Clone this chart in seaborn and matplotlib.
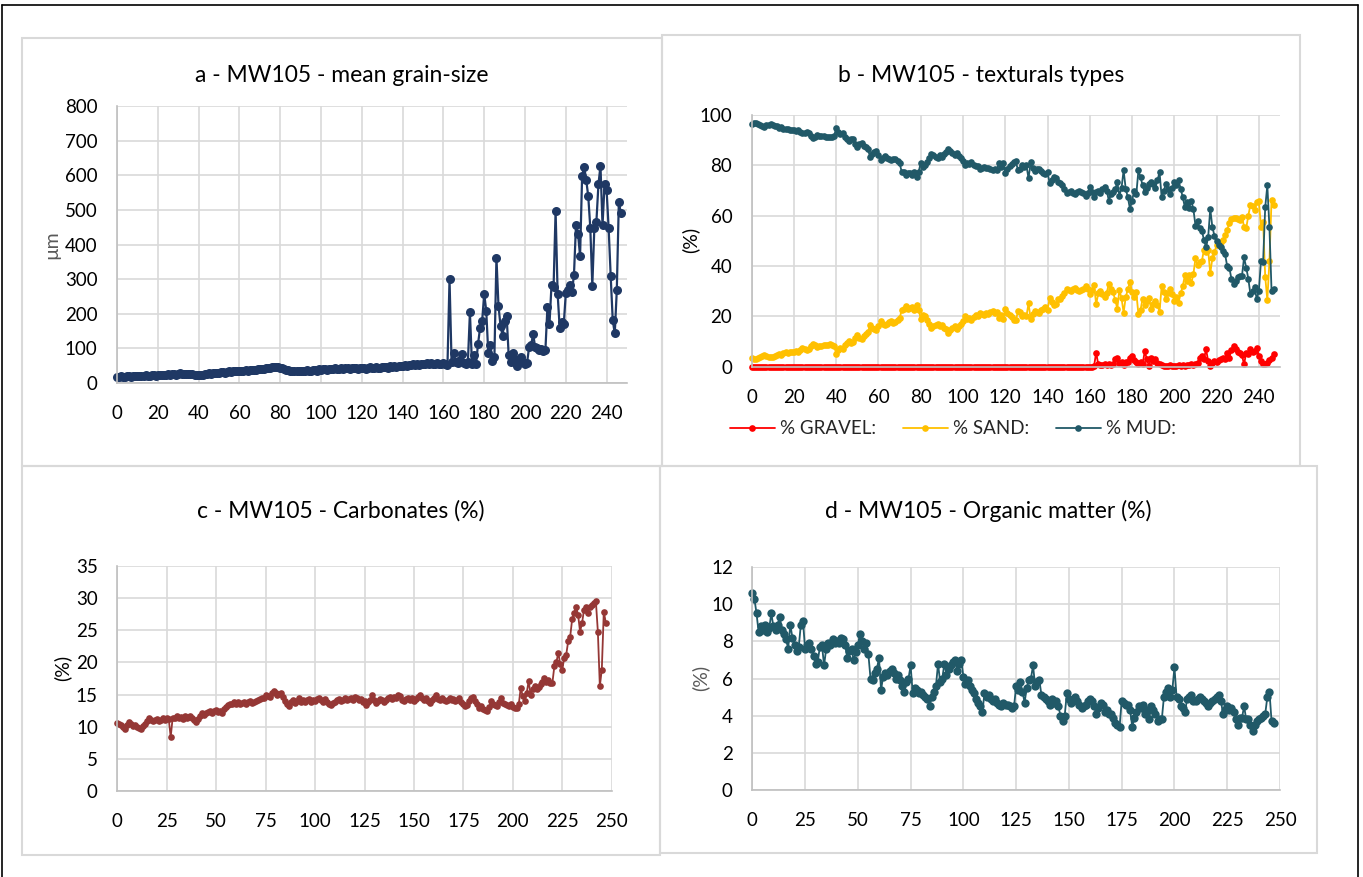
import numpy as np
import pandas as pd
import matplotlib
matplotlib.use("Agg")
import matplotlib.pyplot as plt
import seaborn as sns
from matplotlib.patches import Rectangle
from matplotlib.lines import Line2D

# ---------------------------------------------------------------- data
depth = list(range(248))

grain_size = [
    18, 17, 19, 18, 17, 20, 19, 18, 20, 19,
    20, 19, 21, 20, 22, 21, 20, 22, 23, 21,
    22, 23, 22, 24, 23, 25, 24, 26, 25, 24,
    26, 28, 27, 25, 26, 27, 26, 25, 24, 23,
    22, 24, 23, 25, 26, 28, 27, 29, 30, 28,
    30, 31, 32, 30, 33, 34, 33, 35, 36, 34,
    35, 36, 35, 37, 36, 38, 37, 38, 37, 39,
    40, 39, 41, 42, 43, 44, 46, 47, 45, 46,
    44, 42, 40, 38, 37, 35, 36, 34, 36, 35,
    34, 36, 35, 37, 36, 35, 38, 37, 36, 39,
    38, 40, 39, 38, 41, 40, 39, 42, 41, 40,
    42, 41, 43, 42, 40, 43, 44, 42, 41, 43,
    44, 42, 41, 43, 45, 44, 43, 46, 42, 44,
    45, 47, 46, 44, 48, 47, 49, 46, 48, 50,
    49, 52, 50, 53, 51, 54, 52, 55, 53, 54,
    56, 54, 57, 55, 58, 56, 55, 57, 54, 56,
    58, 55, 52, 300, 62, 88, 60, 58, 65, 83,
    58, 55, 60, 204, 55, 80, 55, 114, 160, 180,
    257, 209, 86, 110, 64, 75, 362, 223, 165, 136,
    180, 194, 80, 60, 88, 70, 50, 60, 75, 62,
    55, 58, 103, 110, 141, 103, 100, 95, 98, 92,
    95, 220, 170, 284, 276, 497, 257, 160, 175, 170,
    259, 270, 284, 262, 312, 457, 430, 367, 598, 625,
    586, 540, 449, 281, 449, 466, 574, 627, 455, 574,
    557, 447, 310, 182, 143, 268, 524, 490,
]

gravel = [0.0] * 160 + [
    0.0, 0.0, 0.2, 5.6, 0.9, 0.8, 0.6, 0.9, 0.7, 1.0,
    0.8, 1.2, 2.9, 3.6, 1.5, 1.8, 0.5, 1.7, 2.0, 3.6,
    4.2, 2.5, 2.0, 1.2, 2.0, 1.0, 6.2, 2.9, 0.3, 3.6,
    2.4, 2.9, 1.5, 0.9, 0.6, 0.3, 0.4, 0.2, 0.5, 0.3,
    0.4, 0.2, 0.5, 0.3, 0.6, 0.4, 0.8, 0.5, 0.9, 0.6,
    1.0, 1.5, 3.6, 4.2, 3.0, 6.9, 2.3, 0.2, 1.5, 2.3,
    1.8, 2.5, 2.9, 3.6, 3.0, 5.6, 3.6, 6.5, 8.2, 6.9,
    6.0, 5.6, 4.5, 0.9, 5.6, 5.0, 6.9, 6.0, 6.2, 7.6,
    4.2, 2.3, 0.9, 0.9, 1.6, 2.5, 3.6, 4.9,
]

sand = [
    3.5, 3.2, 3.0, 3.4, 3.8, 4.2, 4.6, 4.1, 3.9, 3.7,
    4.0, 4.2, 4.5, 5.0, 4.8, 5.4, 5.7, 5.4, 5.8, 6.0,
    6.0, 6.4, 6.0, 6.8, 7.3, 7.0, 6.6, 7.0, 8.2, 9.1,
    8.7, 8.0, 8.4, 8.2, 8.5, 8.8, 8.6, 8.9, 8.7, 8.4,
    5.0, 6.8, 7.5, 7.2, 8.8, 9.5, 10.2, 9.4, 9.7, 11.4,
    12.6, 11.4, 11.0, 12.2, 12.8, 13.6, 16.6, 15.4, 14.8, 14.4,
    16.0, 18.0, 17.0, 16.4, 17.0, 17.6, 18.0, 17.4, 17.6, 18.4,
    19.2, 22.6, 22.8, 24.0, 23.0, 23.2, 23.8, 22.6, 24.6, 22.6,
    19.0, 20.5, 20.0, 18.5, 17.0, 15.5, 16.0, 16.5, 17.0, 16.0,
    16.5, 15.5, 14.8, 13.5, 14.5, 15.2, 16.0, 15.0, 16.2, 17.0,
    18.2, 20.0, 19.0, 19.4, 18.7, 19.8, 20.4, 20.2, 21.5, 20.9,
    20.7, 21.2, 21.0, 21.6, 22.0, 21.4, 21.7, 19.2, 20.5, 19.0,
    23.0, 21.4, 20.4, 19.6, 18.7, 18.4, 22.0, 21.6, 20.0, 20.6,
    20.0, 25.2, 18.8, 21.0, 22.2, 21.6, 21.4, 22.4, 23.0, 23.6,
    22.7, 27.2, 25.8, 24.7, 25.0, 26.7, 27.0, 28.0, 29.4, 30.8,
    30.5, 30.0, 30.8, 31.3, 30.6, 30.0, 30.4, 31.0, 32.0, 31.0,
    28.7, 30.5, 32.5, 24.8, 29.1, 30.2, 28.9, 27.8, 29.3, 33.0,
    30.7, 29.5, 26.6, 23.1, 30.5, 27.2, 21.5, 27.7, 30.7, 33.7,
    29.8, 27.5, 29.5, 20.8, 22.7, 27.0, 24.5, 26.1, 27.2, 23.1,
    25.0, 26.1, 24.5, 21.8, 32.1, 29.7, 27.0, 29.3, 30.8, 28.7,
    26.3, 27.8, 25.5, 29.1, 32.1, 36.3, 33.9, 36.5, 33.1, 36.7,
    43.0, 40.5, 41.4, 41.8, 46.5, 45.7, 46.3, 37.1, 43.1, 45.7,
    48.2, 49.0, 49.7, 50.4, 52.3, 54.4, 57.0, 58.5, 59.0, 59.1,
    58.5, 58.4, 59.4, 55.7, 55.0, 60.0, 64.3, 64.0, 62.3, 65.6,
    65.7, 55.7, 57.6, 35.8, 26.4, 42.1, 66.3, 64.3,
]

mud = [
    96.5, 96.8, 97.0, 96.6, 96.2, 95.8, 95.4, 95.9, 96.1, 96.3,
    96.0, 95.8, 95.5, 95.0, 95.2, 94.6, 94.3, 94.6, 94.2, 94.0,
    94.0, 93.6, 94.0, 93.2, 92.7, 93.0, 93.4, 93.0, 91.8, 90.9,
    91.3, 92.0, 91.6, 91.8, 91.5, 91.2, 91.4, 91.1, 91.3, 91.6,
    95.0, 93.2, 92.5, 92.8, 91.2, 90.5, 89.8, 90.6, 90.3, 88.6,
    87.4, 88.6, 89.0, 87.8, 87.2, 86.4, 83.4, 84.6, 85.2, 85.6,
    84.0, 82.0, 83.0, 83.6, 83.0, 82.4, 82.0, 82.6, 82.4, 81.6,
    80.8, 77.4, 77.2, 76.0, 77.0, 76.8, 76.2, 77.4, 75.4, 77.4,
    81.0, 79.5, 80.0, 81.5, 83.0, 84.5, 84.0, 83.5, 83.0, 84.0,
    83.5, 84.5, 85.2, 86.5, 85.5, 84.8, 84.0, 85.0, 83.8, 83.0,
    81.8, 80.0, 81.0, 80.6, 81.3, 80.2, 79.6, 79.8, 78.5, 79.1,
    79.3, 78.8, 79.0, 78.4, 78.0, 78.6, 78.3, 80.8, 79.5, 81.0,
    77.0, 78.6, 79.6, 80.4, 81.3, 81.6, 78.0, 78.4, 80.0, 79.4,
    80.0, 74.8, 81.2, 79.0, 77.8, 78.4, 78.6, 77.6, 77.0, 76.4,
    77.3, 72.8, 74.2, 75.3, 75.0, 73.3, 73.0, 72.0, 70.6, 69.2,
    69.5, 70.0, 69.2, 68.7, 69.4, 70.0, 69.6, 69.0, 68.0, 69.0,
    71.3, 69.5, 67.3, 69.6, 70.0, 69.0, 70.5, 71.3, 70.0, 66.0,
    68.5, 69.3, 70.5, 73.3, 68.0, 71.0, 78.0, 70.6, 67.3, 62.7,
    66.0, 70.0, 68.5, 78.0, 75.3, 72.0, 69.3, 71.0, 72.5, 73.3,
    72.6, 71.0, 74.0, 77.3, 67.3, 70.0, 72.6, 70.5, 68.7, 71.0,
    73.3, 72.0, 74.0, 70.6, 67.3, 63.3, 65.3, 63.0, 66.0, 62.7,
    56.0, 58.0, 55.0, 54.0, 50.5, 47.4, 51.4, 62.7, 55.4, 52.0,
    50.0, 48.5, 47.4, 46.0, 44.7, 40.0, 39.4, 35.0, 32.8, 34.0,
    35.5, 36.0, 36.1, 43.4, 39.4, 35.0, 28.8, 30.0, 31.5, 26.8,
    30.1, 42.0, 41.5, 63.3, 72.0, 55.4, 30.1, 30.8,
]

carbonates = [
    10.6, 10.4, 10.3, 10.0, 9.6, 10.2, 10.7, 10.4, 10.1, 10.3,
    10.0, 9.8, 9.6, 10.1, 10.5, 10.9, 11.4, 11.1, 10.9, 11.0,
    11.2, 10.9, 11.1, 11.4, 11.0, 11.3, 11.2, 8.4, 11.4, 11.3,
    11.6, 11.3, 11.5, 11.2, 11.6, 11.4, 11.5, 11.6, 11.3, 11.0,
    10.7, 11.2, 11.6, 12.2, 11.9, 12.1, 12.3, 12.4, 12.2, 12.5,
    12.6, 12.3, 12.4, 12.2, 12.8, 13.1, 13.4, 13.6, 13.5, 13.8,
    13.6, 13.8, 13.5, 13.7, 13.9, 13.6, 13.8, 14.0, 13.7, 13.9,
    14.0, 14.2, 14.3, 14.5, 14.4, 15.0, 14.8, 14.6, 15.2, 15.5,
    15.2, 14.9, 15.1, 15.3, 14.6, 14.0, 13.6, 13.2, 13.8, 14.1,
    13.7, 14.0, 14.5, 13.9, 14.2, 13.8, 14.1, 14.3, 13.9, 14.2,
    14.0, 14.3, 14.5, 14.1, 13.9, 14.3, 13.8, 13.6, 13.4, 13.7,
    13.9, 14.1, 14.3, 14.0, 14.2, 14.4, 14.1, 14.3, 14.5, 14.2,
    14.7, 14.4, 14.1, 14.3, 13.9, 14.0, 13.4, 13.8, 14.2, 15.0,
    14.2, 13.7, 14.0, 14.3, 14.1, 13.8, 14.2, 14.4, 14.6, 14.3,
    14.7, 14.5, 15.0, 14.8, 14.2, 14.0, 14.3, 14.5, 14.1, 14.4,
    14.0, 14.3, 14.6, 15.0, 14.5, 14.2, 14.4, 14.0, 13.7, 14.1,
    14.4, 15.0, 14.3, 14.1, 14.5, 14.2, 14.0, 14.2, 14.4, 14.1,
    14.3, 14.0, 14.2, 14.5, 13.9, 13.5, 13.2, 13.4, 14.0, 14.5,
    14.7, 14.0, 13.5, 12.9, 13.3, 12.8, 12.6, 12.4, 13.0, 14.0,
    13.6, 13.4, 13.2, 13.8, 14.5, 13.7, 13.5, 13.4, 13.2, 13.6,
    13.1, 12.9, 12.9, 13.5, 16.0, 14.8, 14.0, 15.2, 17.1, 15.0,
    15.8, 16.3, 15.9, 16.2, 16.6, 17.0, 17.6, 16.9, 17.2, 16.8,
    16.8, 19.4, 20.0, 21.5, 19.7, 18.9, 20.7, 21.2, 23.3, 24.0,
    26.7, 27.7, 28.7, 27.4, 24.8, 26.1, 28.2, 28.7, 27.7, 28.7,
    29.0, 29.2, 29.5, 24.8, 16.3, 18.9, 27.9, 26.2,
]

organic = [
    10.6, 10.3, 9.5, 8.5, 8.8, 8.6, 8.9, 8.5, 8.7, 9.5,
    8.8, 8.6, 8.9, 9.3, 8.6, 8.4, 8.1, 7.6, 8.9, 8.2,
    7.8, 7.5, 7.7, 8.9, 9.1, 7.6, 7.8, 7.9, 7.6, 7.2,
    6.8, 6.9, 7.7, 7.8, 6.7, 7.6, 7.9, 7.8, 8.1, 7.9,
    8.0, 7.9, 8.2, 8.1, 7.8, 7.1, 7.5, 7.6, 7.0, 7.4,
    7.8, 8.4, 8.0, 7.6, 7.9, 7.3, 6.0, 5.9, 6.3, 6.5,
    7.1, 5.4, 6.1, 6.3, 6.2, 6.4, 6.5, 6.3, 6.0, 6.2,
    5.9, 5.6, 5.3, 5.8, 6.0, 6.7, 5.2, 5.5, 5.4, 5.2,
    5.3, 5.1, 5.0, 4.9, 4.5, 5.0, 5.3, 5.6, 6.8, 5.8,
    6.0, 6.8, 6.2, 6.5, 6.7, 6.9, 7.0, 6.4, 6.8, 7.0,
    6.1, 5.7, 5.9, 5.6, 5.4, 5.2, 4.9, 4.7, 4.5, 4.2,
    5.2, 5.0, 5.1, 4.9, 4.8, 4.9, 4.7, 4.6, 4.5, 4.7,
    4.6, 4.6, 4.5, 4.4, 4.5, 5.6, 5.4, 5.8, 5.3, 4.7,
    5.5, 5.9, 6.0, 6.7, 5.6, 5.8, 5.9, 5.1, 5.0, 4.9,
    4.8, 4.6, 4.9, 4.7, 4.8, 4.5, 4.0, 3.7, 4.0, 5.2,
    4.9, 4.7, 4.9, 5.0, 4.8, 4.6, 4.4, 4.5, 4.6, 4.8,
    4.9, 4.8, 4.5, 4.1, 4.4, 4.7, 4.6, 4.2, 4.3, 4.1,
    4.1, 3.9, 3.6, 3.5, 3.4, 4.8, 4.7, 4.6, 4.6, 4.3,
    3.4, 3.9, 4.2, 4.5, 4.4, 4.6, 4.1, 4.3, 3.8, 4.5,
    4.3, 4.1, 3.7, 3.8, 3.8, 5.0, 5.3, 5.5, 5.0, 5.4,
    6.6, 5.0, 4.9, 4.5, 4.4, 4.2, 4.9, 5.0, 5.1, 4.8,
    4.8, 4.9, 5.0, 4.9, 4.8, 4.7, 4.5, 4.7, 4.8, 4.9,
    5.0, 5.1, 4.8, 4.1, 4.3, 4.5, 4.3, 4.4, 4.2, 3.8,
    3.5, 3.9, 3.9, 4.5, 3.8, 3.8, 3.5, 3.2, 3.5, 3.7,
    3.8, 3.9, 4.0, 4.1, 5.0, 5.3, 3.7, 3.6,
]

titles = ["a - MW105 - mean grain-size", "b - MW105 - texturals types",
          "c - MW105 - Carbonates (%)", "d - MW105 - Organic matter (%)"]
series_names = ["% GRAVEL:", "% SAND:", "% MUD:"]

for arr in (grain_size, gravel, sand, mud, carbonates, organic):
    assert len(arr) == len(depth), len(arr)

# ---------------------------------------------------------------- style
W, H = 1363, 877
sns.set_theme(style="white")
plt.rcParams["font.family"] = ["Lato", "DejaVu Sans"]

NAVY = "#1f3864"
RED = "#ff0000"
GOLD = "#ffc000"
TEAL = "#215968"
BRICK = "#953735"
GRID = "#d9d9d9"
AXIS = "#bfbfbf"
TICK_FS = 13.5

fig = plt.figure(figsize=(W / 100, H / 100), dpi=100)
fig.patch.set_facecolor("white")


def px_box(left, top, right, bottom):
    return [left / W, 1 - bottom / H, (right - left) / W, (bottom - top) / H]


def fx(px):
    return px / W


def fy(py):
    return 1 - py / H


# outer frame and the four chart frames
fig.add_artist(Line2D([fx(2), fx(2)], [0, fy(5)], color="black", lw=1.2))
fig.add_artist(Line2D([fx(2), fx(1358)], [fy(5), fy(5)], color="black", lw=1.2))
fig.add_artist(Line2D([fx(1358), fx(1358)], [0, fy(5)], color="black", lw=1.2))
for (l, t, r, b) in [(22, 38, 662, 466), (662, 35, 1300, 466),
                     (22, 466, 660, 855), (660, 466, 1317, 853)]:
    fig.add_artist(Rectangle((fx(l), fy(b)), (r - l) / W, (b - t) / H,
                             fill=False, edgecolor=GRID, lw=1.5))


def style_axes(ax, xmax, xticks, ymax, yticks):
    ax.set_xlim(0, xmax)
    ax.set_ylim(0, ymax)
    ax.set_xticks(xticks)
    ax.set_yticks(yticks)
    ax.grid(True, color=GRID, lw=1.2)
    ax.set_axisbelow(True)
    for s in ("top", "right"):
        ax.spines[s].set_visible(False)
    for s in ("left", "bottom"):
        ax.spines[s].set_color(AXIS)
        ax.spines[s].set_linewidth(1.2)
    ax.tick_params(axis="both", length=0, labelsize=TICK_FS, colors="black")
    ax.tick_params(axis="x", pad=16)
    ax.tick_params(axis="y", pad=14)
    ax.set_xlabel("")
    ax.set_ylabel("")
    ax.set_facecolor("white")


def draw(ax, x, y, color, ms, lw, label=None):
    sns.lineplot(x=x, y=y, ax=ax, color=color, marker="o", markersize=ms,
                 markeredgewidth=0, linewidth=lw, sort=False, label=label,
                 legend=False, clip_on=False)


# a - mean grain size
ax_a = fig.add_axes(px_box(117, 106, 627, 383))
draw(ax_a, depth, grain_size, NAVY, 6.5, 1.6)
style_axes(ax_a, 250, np.arange(0, 241, 20), 800, np.arange(0, 801, 100))

# b - textural types
ax_b = fig.add_axes(px_box(751.7, 115, 1280, 366.7))
draw(ax_b, depth, gravel, RED, 4.8, 1.3, series_names[0])
draw(ax_b, depth, sand, GOLD, 4.8, 1.3, series_names[1])
draw(ax_b, depth, mud, TEAL, 4.8, 1.3, series_names[2])
style_axes(ax_b, 250, np.arange(0, 241, 20), 100, np.arange(0, 101, 20))
handles, labels = ax_b.get_legend_handles_labels()
fig.legend(handles, labels, loc="center", bbox_to_anchor=(fx(953), fy(429)),
           ncol=3, frameon=False, fontsize=13.5, handlelength=2.4,
           handletextpad=0.3, columnspacing=1.4)

# c - carbonates
ax_c = fig.add_axes(px_box(117.3, 566, 611.7, 791))
draw(ax_c, depth, carbonates, BRICK, 4.8, 1.3)
style_axes(ax_c, 250, np.arange(0, 251, 25), 35, np.arange(0, 36, 5))

# d - organic matter
ax_d = fig.add_axes(px_box(752.3, 567, 1280, 790))
draw(ax_d, depth, organic, TEAL, 6.0, 1.3)
style_axes(ax_d, 250, np.arange(0, 251, 25), 12, np.arange(0, 13, 2))

# titles
for (cx, cy), t in zip([(342, 75), (981, 76), (341, 511), (988, 511)], titles):
    fig.text(fx(cx), fy(cy), t, ha="center", va="center", fontsize=16.5,
             color="black")

# axis titles
fig.text(fx(52), fy(245), "µm", rotation=90, ha="center", va="center",
         fontsize=14, color="#595959")
fig.text(fx(690), fy(240), "(%)", rotation=90, ha="center", va="center",
         fontsize=14, color="black")
fig.text(fx(62), fy(668), "(%)", rotation=90, ha="center", va="center",
         fontsize=14, color="black")
fig.text(fx(700), fy(678), "(%)", rotation=90, ha="center", va="center",
         fontsize=14, color="#595959")

fig.savefig("out.png", dpi=100, facecolor="white")
